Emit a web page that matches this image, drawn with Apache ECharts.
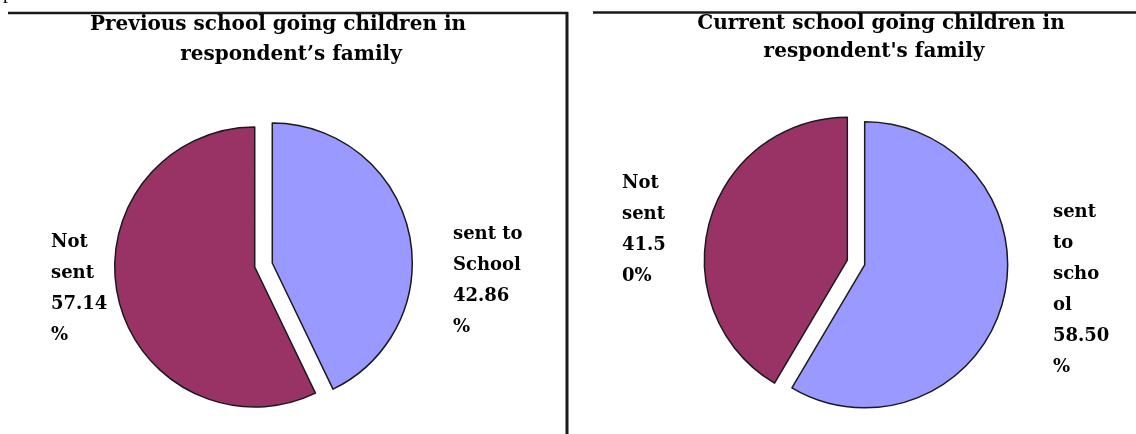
<!DOCTYPE html>
<html>
<head>
<meta charset="utf-8">
<script src="https://cdn.jsdelivr.net/npm/echarts@6/dist/echarts.min.js"></script>
<style>
  html, body { margin: 0; padding: 0; background: #fff; }
  #chart { width: 1136px; height: 434px; }
</style>
</head>
<body>
<div id="chart"></div>
<script>
// ---- data ----
const prevTitleLines = ['Previous school going children in', 'respondent\u2019s family'];
const currTitleLines = ['Current school going children in', "respondent's family"];

const prevCategories = ['sent to School', 'Not sent'];
const prevValues = [42.86, 57.14];
const prevLabelLines = [['sent to', 'School', '42.86', '%'], ['Not', 'sent', '57.14', '%']];

const currCategories = ['sent to school', 'Not sent'];
const currValues = [58.50, 41.50];
const currLabelLines = [['sent', 'to', 'scho', 'ol', '58.50', '%'], ['Not', 'sent', '41.5', '0%']];

// ---- styles ----
const sliceColors = ['#9999FF', '#993366'];
const FONT = 'DejaVu Serif';
const EXPLODE = 9;
// label block top-left corners [panel][slice]
const labelPos = [
  [[453, 219], [51, 227]],
  [[1053, 197], [622, 168]]
];

// one series per slice, so each slice can be pulled out from the centre (exploded pie)
function sliceSeries(cats, vals, labels, center, radius, idx, panel) {
  const total = vals.reduce((a, b) => a + b, 0);
  let before = 0;
  for (let i = 0; i < idx; i++) before += vals[i];
  const mid = (before + vals[idx] / 2) / total * 2 * Math.PI; // clockwise from 12 o'clock
  const c = [center[0] + EXPLODE * Math.sin(mid), center[1] - EXPLODE * Math.cos(mid)];
  return {
    type: 'pie',
    center: c,
    radius: radius,
    startAngle: 90,
    clockwise: true,
    animation: false,
    silent: true,
    emphasis: { disabled: true },
    label: {
      show: true,
      position: 'outside',
      formatter: p => labels[p.dataIndex].join('\n'),
      fontFamily: FONT,
      fontWeight: 'bold',
      fontSize: 18,
      lineHeight: 31,
      color: '#000'
    },
    labelLine: { show: false },
    labelLayout: function (params) {
      const p = labelPos[panel][params.dataIndex];
      return { x: p[0], y: p[1], align: 'left', verticalAlign: 'top' };
    },
    data: cats.map((name, i) => i === idx ? {
      name: name, value: vals[i],
      itemStyle: { color: sliceColors[i], borderColor: '#1a1a1a', borderWidth: 1.5 }
    } : {
      name: name, value: vals[i],
      itemStyle: { color: 'rgba(0,0,0,0)', borderWidth: 0 },
      label: { show: false }
    })
  };
}

const titleStyle = { fontFamily: FONT, fontWeight: 'bold', fontSize: 20, color: '#000' };

const series = [
  sliceSeries(prevCategories, prevValues, prevLabelLines, [263.5, 265], 140, 0, 0),
  sliceSeries(prevCategories, prevValues, prevLabelLines, [263.5, 265], 140, 1, 0),
  sliceSeries(currCategories, currValues, currLabelLines, [856, 262.5], 143, 0, 1),
  sliceSeries(currCategories, currValues, currLabelLines, [856, 262.5], 143, 1, 1)
];

const chart = echarts.init(document.getElementById('chart'), null, { renderer: 'canvas' });
chart.setOption({
  backgroundColor: '#ffffff',
  animation: false,
  title: [
    { text: prevTitleLines[0], left: 278, top: 15, textAlign: 'center', padding: 0, textStyle: titleStyle },
    { text: prevTitleLines[1], left: 291, top: 45, textAlign: 'center', padding: 0, textStyle: titleStyle },
    { text: currTitleLines[0], left: 881, top: 14, textAlign: 'center', padding: 0, textStyle: titleStyle },
    { text: currTitleLines[1], left: 874, top: 42, textAlign: 'center', padding: 0, textStyle: titleStyle }
  ],
  graphic: [
    { type: 'text', left: 3, top: -17, style: { text: 'p', fontFamily: 'Liberation Serif', fontSize: 20, fill: '#000' } },
    { type: 'line', shape: { x1: 8, y1: 13, x2: 568, y2: 13 }, style: { stroke: '#1a1a1a', lineWidth: 2.5 } },
    { type: 'line', shape: { x1: 567, y1: 12, x2: 567, y2: 434 }, style: { stroke: '#1a1a1a', lineWidth: 3 } },
    { type: 'line', shape: { x1: 593, y1: 12.5, x2: 1136, y2: 12.5 }, style: { stroke: '#1a1a1a', lineWidth: 2.5 } }
  ],
  series: series
});
</script>
</body>
</html>
